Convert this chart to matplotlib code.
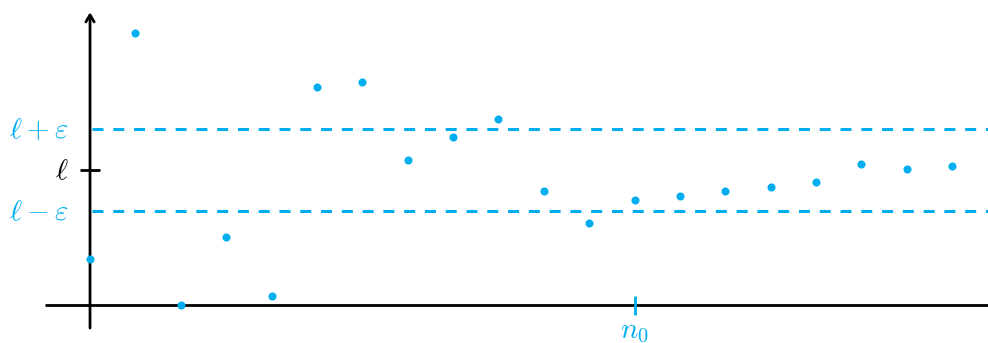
import matplotlib
matplotlib.use("Agg")
import matplotlib.pyplot as plt

# sequence u_n and the limit band
n_values = list(range(20))
u_values = [1.13, 6.65, 0.0, 1.67, 0.24, 5.33, 5.45, 3.55, 4.11, 4.55,
            2.79, 2.02, 2.57, 2.67, 2.79, 2.89, 3.01, 3.45, 3.32, 3.40]
limit = 3.3
eps = 1.0
n0 = 12

CYAN = "#00AEEF"
plt.rcParams["mathtext.fontset"] = "cm"
FS = 21

fig = plt.figure(figsize=(9.88, 3.43), dpi=100)
ax = fig.add_axes([0, 0, 1, 1])
ax.set_xlim(-1.984, 19.79)
ax.set_ylim(-0.915, 7.45)
ax.axis("off")

# axes
ax.plot([-0.99, 19.79], [0, 0], color="black", lw=2.0, solid_capstyle="butt", zorder=2)
ax.annotate("", xy=(0, 7.15), xytext=(0, -0.55),
            arrowprops=dict(arrowstyle="->,head_length=0.5,head_width=0.3",
                            color="black", lw=2.0, shrinkA=0, shrinkB=0), zorder=2)

# band lines
for yv in (limit + eps, limit - eps):
    ax.plot([0.05, 19.79], [yv, yv], color=CYAN, lw=2.2,
            dashes=(3.6, 3.2), zorder=1)

# tick at the limit
ax.plot([-0.22, 0.22], [limit, limit], color="black", lw=2.0, solid_capstyle="butt")
ax.text(-0.48, limit - 0.02, r"$\ell$", color="black", fontsize=FS, ha="right", va="center")
ax.text(-0.48, limit + eps - 0.02, r"$\ell+\varepsilon$", color=CYAN, fontsize=FS,
        ha="right", va="center")
ax.text(-0.48, limit - eps - 0.02, r"$\ell-\varepsilon$", color=CYAN, fontsize=FS,
        ha="right", va="center")

# n0 tick
ax.plot([n0, n0], [-0.22, 0.22], color=CYAN, lw=2.0, solid_capstyle="butt", zorder=3)
ax.text(n0, -0.27, r"$n_0$", color=CYAN, fontsize=FS, ha="center", va="top")

# points
ax.plot(n_values, u_values, "o", color=CYAN, markersize=5.8, markeredgewidth=0, zorder=4)

fig.savefig("out.png", dpi=100)
